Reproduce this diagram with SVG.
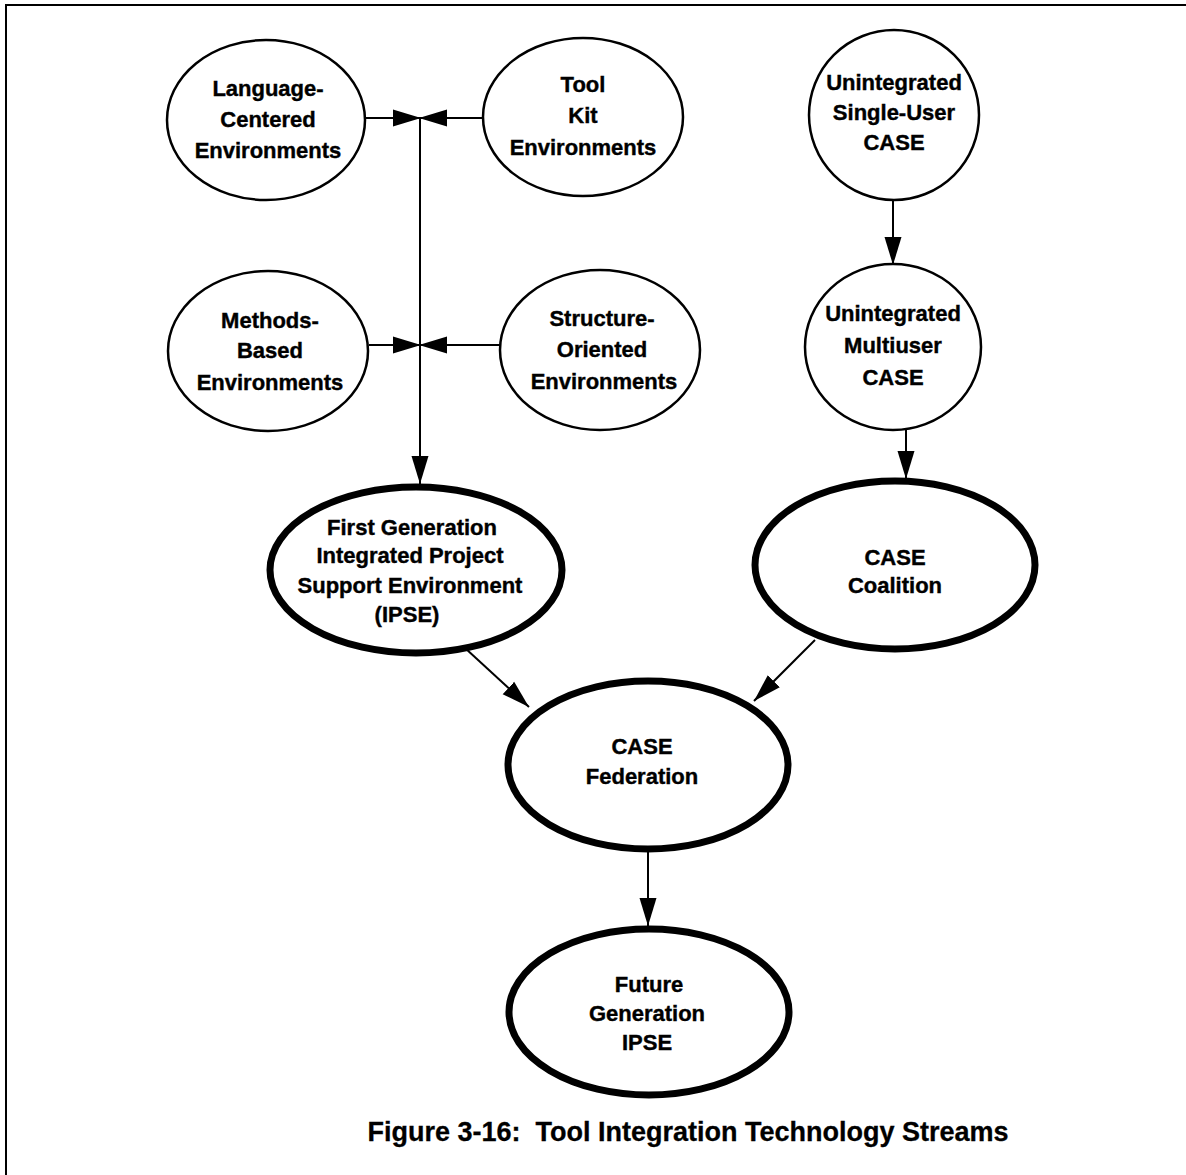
<svg xmlns="http://www.w3.org/2000/svg" width="1186" height="1175" viewBox="0 0 1186 1175">
  <defs>
    <style>
      .bg { fill: #ffffff; }
      .frame { fill: none; stroke: #000; stroke-width: 2; }
      .thin { fill: #fff; stroke: #000; stroke-width: 2.5; }
      .thick { fill: #fff; stroke: #000; stroke-width: 7; }
      .lbl { font-family: "Liberation Sans", Arial, sans-serif; font-weight: bold; font-size: 22px; fill: #000; stroke: #000; stroke-width: 0.4; text-anchor: middle; }
      .cap { font-family: "Liberation Sans", Arial, sans-serif; font-weight: bold; font-size: 27px; fill: #000; stroke: #000; stroke-width: 0.3; text-anchor: middle; }
      .edge { fill: none; stroke: #000; stroke-width: 2; }
    </style>
    <marker id="arrow" markerUnits="userSpaceOnUse" markerWidth="30" markerHeight="20" refX="28" refY="9.5" orient="auto">
      <path d="M0,1 L28,9.5 L0,18 Z" fill="#000"/>
    </marker>
  </defs>

  <rect class="bg" x="0" y="0" width="1186" height="1175"/>
  <!-- page frame (top and left rules) -->
  <path class="frame" d="M6,1175 L6,5 L1186,5"/>

  <!-- connectors -->
  <g id="connectors">
    <line class="edge" x1="420" y1="118" x2="420" y2="484" marker-end="url(#arrow)"/>
    <line class="edge" x1="366" y1="118" x2="421" y2="118" marker-end="url(#arrow)"/>
    <line class="edge" x1="483" y1="118" x2="419" y2="118" marker-end="url(#arrow)"/>
    <line class="edge" x1="369" y1="345" x2="421" y2="345" marker-end="url(#arrow)"/>
    <line class="edge" x1="500" y1="345" x2="419" y2="345" marker-end="url(#arrow)"/>
    <line class="edge" x1="893" y1="200" x2="893" y2="265" marker-end="url(#arrow)"/>
    <line class="edge" x1="906" y1="430" x2="906" y2="479" marker-end="url(#arrow)"/>
    <line class="edge" x1="465" y1="648" x2="529" y2="707" marker-end="url(#arrow)"/>
    <line class="edge" x1="815" y1="640" x2="754" y2="701" marker-end="url(#arrow)"/>
    <line class="edge" x1="648" y1="851" x2="648" y2="926" marker-end="url(#arrow)"/>
  </g>

  <g id="language-centered">
    <ellipse class="thin" cx="266" cy="120" rx="99" ry="80"/>
    <text class="lbl" x="268" y="96">Language-</text>
    <text class="lbl" x="268" y="127">Centered</text>
    <text class="lbl" x="268" y="158">Environments</text>
  </g>

  <g id="tool-kit">
    <ellipse class="thin" cx="583" cy="117" rx="100" ry="79"/>
    <text class="lbl" x="583" y="92">Tool</text>
    <text class="lbl" x="583" y="123">Kit</text>
    <text class="lbl" x="583" y="155">Environments</text>
  </g>

  <g id="single-user-case">
    <ellipse class="thin" cx="894" cy="115" rx="85" ry="85"/>
    <text class="lbl" x="894" y="90">Unintegrated</text>
    <text class="lbl" x="894" y="120">Single-User</text>
    <text class="lbl" x="894" y="150">CASE</text>
  </g>

  <g id="methods-based">
    <ellipse class="thin" cx="268" cy="351" rx="100" ry="80"/>
    <text class="lbl" x="270" y="328">Methods-</text>
    <text class="lbl" x="270" y="358">Based</text>
    <text class="lbl" x="270" y="390">Environments</text>
  </g>

  <g id="structure-oriented">
    <ellipse class="thin" cx="600" cy="350" rx="100" ry="80"/>
    <text class="lbl" x="602" y="326">Structure-</text>
    <text class="lbl" x="602" y="357">Oriented</text>
    <text class="lbl" x="604" y="389">Environments</text>
  </g>

  <g id="multiuser-case">
    <ellipse class="thin" cx="893" cy="347" rx="88" ry="83"/>
    <text class="lbl" x="893" y="321">Unintegrated</text>
    <text class="lbl" x="893" y="353">Multiuser</text>
    <text class="lbl" x="893" y="385">CASE</text>
  </g>

  <g id="first-generation-ipse">
    <ellipse class="thick" cx="416" cy="570" rx="146" ry="83"/>
    <text class="lbl" x="412" y="535">First Generation</text>
    <text class="lbl" x="410" y="563">Integrated Project</text>
    <text class="lbl" x="410" y="593">Support Environment</text>
    <text class="lbl" x="407" y="622">(IPSE)</text>
  </g>

  <g id="case-coalition">
    <ellipse class="thick" cx="895" cy="565" rx="140" ry="84"/>
    <text class="lbl" x="895" y="565">CASE</text>
    <text class="lbl" x="895" y="593">Coalition</text>
  </g>

  <g id="case-federation">
    <ellipse class="thick" cx="648" cy="765" rx="140" ry="84"/>
    <text class="lbl" x="642" y="754">CASE</text>
    <text class="lbl" x="642" y="784">Federation</text>
  </g>

  <g id="future-generation-ipse">
    <ellipse class="thick" cx="649" cy="1012" rx="140" ry="83"/>
    <text class="lbl" x="649" y="992">Future</text>
    <text class="lbl" x="647" y="1021">Generation</text>
    <text class="lbl" x="647" y="1050">IPSE</text>
  </g>

  <text class="cap" x="688" y="1141">Figure 3-16:&#160; Tool Integration Technology Streams</text>
</svg>
